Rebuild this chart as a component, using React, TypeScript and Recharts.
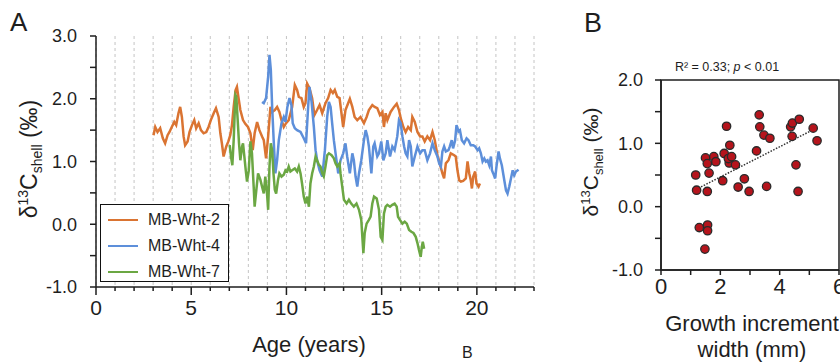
import React from 'react'
import {
  LineChart,
  Line,
  XAxis,
  YAxis,
  CartesianGrid,
  Legend,
  ScatterChart,
  Scatter,
  ReferenceLine,
  ReferenceArea,
} from 'recharts'

// ---------------------------------------------------------------------------
// Panel A — d13C shell records vs age (years)
// ---------------------------------------------------------------------------

const WHT2_AGE = [
  3.02, 3.11, 3.23, 3.37, 3.51, 3.63, 3.76, 3.86, 3.98, 4.11, 4.21, 4.33, 4.42, 4.51, 4.6, 4.68,
  4.81, 4.91, 5.04, 5.16, 5.26, 5.39, 5.51, 5.65, 5.79, 5.91, 6.03, 6.18, 6.3, 6.44, 6.53, 6.61,
  6.7, 6.84, 6.95, 7.05, 7.14, 7.23, 7.33, 7.4, 7.49, 7.58, 7.72, 7.84, 7.98, 8.11, 8.23, 8.33,
  8.46, 8.58, 8.72, 8.81, 8.93, 9.04, 9.16, 9.25, 9.39, 9.51, 9.63, 9.74, 9.86, 9.98, 10.12, 10.3,
  10.44, 10.56, 10.65, 10.79, 10.91, 11.0, 11.09, 11.21, 11.35, 11.47, 11.61, 11.74, 11.88, 12.05,
  12.19, 12.32, 12.44, 12.54, 12.67, 12.79, 12.98, 13.1, 13.23, 13.33, 13.46, 13.58, 13.72, 13.89,
  14.07, 14.21, 14.33, 14.51, 14.63, 14.77, 14.91, 15.04, 15.12, 15.21, 15.3, 15.47, 15.65, 15.79,
  15.91, 16.0, 16.14, 16.26, 16.39, 16.53, 16.61, 16.74, 16.88, 17.02, 17.14, 17.26, 17.4, 17.54,
  17.67, 17.79, 17.93, 18.05, 18.19, 18.28, 18.37, 18.51, 18.63, 18.81, 18.89, 18.98, 19.07, 19.16,
  19.28, 19.42, 19.51, 19.6, 19.68, 19.74, 19.81, 19.91, 19.98, 20.09, 20.16,
]
const WHT2_D13C = [
  1.42, 1.55, 1.47, 1.53, 1.37, 1.29, 1.42, 1.47, 1.55, 1.63, 1.58, 1.77, 1.87, 1.71, 1.4, 1.26,
  1.32, 1.47, 1.58, 1.66, 1.53, 1.61, 1.5, 1.45, 1.47, 1.55, 1.66, 1.77, 1.85, 1.71, 1.45, 1.29,
  1.08, 1.24, 1.32, 1.42, 1.58, 1.87, 2.14, 2.19, 2.0, 1.82, 1.66, 1.6, 1.55, 1.45, 1.18, 1.45,
  1.63, 1.5, 1.4, 1.34, 1.05, 1.4, 1.87, 1.79, 1.82, 1.87, 1.79, 1.66, 1.55, 1.61, 1.66, 1.87,
  2.22, 2.14, 2.03, 2.01, 1.87, 1.93, 2.24, 2.17, 2.01, 1.74, 1.82, 1.9, 1.77, 1.93,
  2.01, 2.14, 2.09, 2.14, 2.03, 2.01, 1.55, 1.82, 1.92, 2.0, 1.87, 1.71, 1.66, 1.71,
  1.61, 1.71, 1.82, 1.9, 1.87, 1.85, 1.74, 1.79, 1.55, 1.77, 1.66, 1.79, 1.87, 1.92,
  1.82, 1.69, 1.55, 1.47, 1.55, 1.5, 1.71, 1.63, 1.47, 1.4, 1.4, 1.32, 1.4, 1.34,
  1.47, 1.34, 1.1, 0.97, 0.81, 0.73, 0.97, 1.02, 1.13, 1.1, 1.08, 0.86, 0.7, 0.68,
  0.69, 0.73, 1.0, 0.81, 0.7, 0.57, 0.76, 0.84, 0.65, 0.6, 0.65,
]

const WHT4_AGE = [
  8.72, 8.81, 8.93, 9.04, 9.11, 9.18, 9.25, 9.33, 9.42, 9.51, 9.6, 9.74, 9.86, 9.95, 10.05, 10.16,
  10.26, 10.33, 10.44, 10.56, 10.74, 10.91, 11.03, 11.14, 11.21, 11.32, 11.44, 11.53, 11.61, 11.74,
  11.88, 12.02, 12.14, 12.23, 12.32, 12.4, 12.49, 12.58, 12.72, 12.84, 12.98, 13.1, 13.19, 13.33,
  13.46, 13.54, 13.63, 13.72, 13.81, 13.93, 14.07, 14.16, 14.25, 14.33, 14.46, 14.56, 14.63, 14.77,
  14.86, 14.98, 15.09, 15.21, 15.3, 15.44, 15.56, 15.68, 15.82, 15.91, 16.0, 16.09, 16.18, 16.26,
  16.35, 16.44, 16.53, 16.61, 16.74, 16.88, 17.02, 17.14, 17.26, 17.4, 17.54, 17.67, 17.79, 17.93,
  18.02, 18.11, 18.19, 18.28, 18.37, 18.51, 18.58, 18.68, 18.75, 18.86, 18.93, 19.04, 19.11, 19.21,
  19.33, 19.46, 19.56, 19.68, 19.81, 19.91, 20.04, 20.12, 20.21, 20.3, 20.39, 20.47, 20.56, 20.65,
  20.74, 20.79, 20.86, 20.96, 21.03, 21.14, 21.21, 21.31, 21.44, 21.53, 21.61, 21.7, 21.79, 21.88,
  21.96, 22.05, 22.19,
]
const WHT4_D13C = [
  1.95, 1.93, 2.01, 2.35, 2.7, 2.46, 1.87, 1.34, 0.81, 1.02, 1.34, 1.61, 1.71, 1.63, 1.87, 2.01,
  1.9, 1.61, 1.53, 1.5, 1.47, 1.37, 1.29, 1.87, 2.19, 1.95, 1.55, 1.18, 1.02, 0.86,
  0.76, 1.18, 1.71, 1.95, 1.87, 1.61, 1.34, 1.13, 0.81, 1.02, 1.13, 1.29, 1.08, 0.81,
  1.13, 1.02, 0.76, 0.6, 0.81, 1.02, 1.34, 1.5, 1.4, 1.24, 0.81, 1.24, 1.29, 1.08,
  1.13, 1.32, 1.02, 1.13, 1.34, 1.08, 1.24, 1.18, 1.4, 1.66, 1.61, 1.4, 1.24, 1.13,
  1.08, 1.34, 1.24, 0.92, 1.08, 1.24, 1.13, 1.18, 1.18, 1.02, 1.13, 1.29, 1.18, 1.08,
  0.97, 0.92, 1.16, 1.24, 1.16, 1.18, 1.24, 1.34, 1.21, 1.34, 1.58, 1.48, 1.5, 1.34,
  1.29, 1.37, 1.34, 1.26, 1.26, 1.24, 1.18, 1.21, 1.13, 1.0, 1.05, 1.0, 1.02, 0.94,
  1.08, 0.86, 0.81, 0.73, 0.92, 1.16, 1.05, 0.94, 0.7, 0.54, 0.49, 0.6, 0.73, 0.86,
  0.78, 0.84, 0.87,
]

const WHT7_AGE = [
  7.02, 7.09, 7.16, 7.23, 7.32, 7.37, 7.44, 7.51, 7.58, 7.67, 7.72, 7.79, 7.86, 7.93, 8.02, 8.11,
  8.19, 8.28, 8.33, 8.4, 8.51, 8.63, 8.72, 8.81, 8.89, 8.98, 9.04, 9.11, 9.18, 9.25, 9.32, 9.39,
  9.46, 9.56, 9.63, 9.74, 9.86, 9.95, 10.04, 10.12, 10.21, 10.3, 10.44, 10.56, 10.65, 10.74, 10.82,
  10.91, 11.0, 11.09, 11.18, 11.26, 11.35, 11.44, 11.53, 11.61, 11.7, 11.79, 11.88, 11.96, 12.05,
  12.14, 12.23, 12.37, 12.49, 12.58, 12.67, 12.79, 12.84, 12.93, 13.02, 13.16, 13.28, 13.4, 13.54,
  13.68, 13.81, 13.93, 14.04, 14.11, 14.21, 14.33, 14.42, 14.51, 14.6, 14.74, 14.86, 14.95, 15.04,
  15.12, 15.21, 15.3, 15.44, 15.56, 15.68, 15.79, 15.86, 15.96, 16.09, 16.21, 16.32, 16.44, 16.56,
  16.67, 16.79, 16.88, 16.96, 17.05, 17.11, 17.16, 17.23,
]
const WHT7_D13C = [
  1.26, 1.08, 0.94, 1.34, 2.06, 2.03, 1.66, 1.29, 1.02, 1.24, 1.29, 1.08, 0.87, 0.68, 0.85, 1.32,
  1.13, 0.6, 0.28, 0.49, 0.81, 0.71, 0.6, 0.49, 0.76, 0.49, 0.23, 0.92, 1.29, 1.18, 0.81, 0.55,
  0.49, 0.71, 0.81, 0.76, 0.79, 0.86, 0.84, 0.92, 0.84, 0.86, 0.89, 0.84, 0.92, 0.81, 0.65,
  0.44, 0.33, 0.44, 0.28, 0.65, 0.81, 0.92, 1.08, 1.02, 0.95, 0.92, 0.81, 0.76, 0.92,
  1.1, 1.13, 1.1, 1.05, 0.97, 0.92, 0.97, 0.81, 0.6, 0.39, 0.33, 0.39, 0.33, 0.28,
  0.33, 0.23, 0.07, -0.46, -0.14, 0.01, 0.07, 0.12, 0.33, 0.44, 0.41, 0.23, -0.2, -0.25,
  0.17, 0.28, 0.31, 0.28, 0.31, 0.33, 0.28, 0.12, 0.07, 0.01, 0.04, 0.01, -0.09, -0.12,
  -0.14, -0.2, -0.3, -0.41, -0.52, -0.36, -0.28, -0.39,
]

const SPECIMENS = ['MB-Wht-2', 'MB-Wht-4', 'MB-Wht-7']
const AGE_TICKS = Array.from({ length: 24 }, (_, i) => i)
const DELTA_TICKS_A = [-1, -0.5, 0, 0.5, 1, 1.5, 2, 2.5, 3]

// ---------------------------------------------------------------------------
// Panel B — d13C vs growth increment width
// ---------------------------------------------------------------------------

const GIW_MM = [
  1.17, 1.2, 1.5, 1.56, 1.62, 1.56, 1.29, 1.57, 1.57, 1.48, 1.78, 1.85, 2.21, 2.13, 2.3, 2.32,
  2.27, 2.38, 2.51, 2.08, 2.6, 2.81, 2.97, 3.22, 3.31, 3.33, 3.47, 3.67, 3.56, 4.37, 4.43, 4.42,
  4.66, 4.55, 4.62, 5.13, 5.26,
]
const GIW_D13C = [
  0.5, 0.26, 0.77, 0.68, 0.53, 0.24, -0.33, -0.29, -0.38, -0.67, 0.79, 0.71, 1.27, 0.84, 0.69, 0.97,
  0.76, 0.79, 0.66, 0.41, 0.31, 0.44, 0.24, 0.88, 1.45, 1.26, 1.13, 1.08, 0.32, 1.26, 1.32, 1.11,
  1.38, 0.66, 0.24, 1.24, 1.04,
]
const TREND = [
  { x: 1.17, y: 0.27 },
  { x: 5.15, y: 1.22 },
]
const GIW_TICKS = [0, 1, 2, 3, 4, 5, 6]
const DELTA_TICKS_B = [-1, -0.5, 0, 0.5, 1, 1.5, 2]

// ---------------------------------------------------------------------------
// Style
// ---------------------------------------------------------------------------

const FONT = '"Liberation Sans", Arial, Helvetica, sans-serif'
const INK = '#1e1e1e'
const COLORS = ['#DA7432', '#5D8FDA', '#6BA743']

const zip = (xs: number[], ys: number[]) => xs.map((x, i) => ({ x, y: ys[i] }))
const SERIES = [zip(WHT2_AGE, WHT2_D13C), zip(WHT4_AGE, WHT4_D13C), zip(WHT7_AGE, WHT7_D13C)]
const SCATTER = zip(GIW_MM, GIW_D13C)

// bottom ticks: short minor mark every unit, longer mark + label on majors
function makeXTick(labelEvery: number, minorLen: number, majorLen: number, fontSize: number, dy: number) {
  return (props: any) => {
    const { x, y, payload } = props
    const major = payload.value % labelEvery === 0
    return (
      <g>
        <line x1={x} x2={x} y1={y} y2={y + (major ? majorLen : minorLen)} stroke={INK} strokeWidth={1.5} />
        {major && (
          <text x={x} y={y + dy} textAnchor="middle" fontSize={fontSize} fontFamily={FONT} fill={INK}>
            {payload.value}
          </text>
        )}
      </g>
    )
  }
}

function makeYTick(gap: number, fontSize: number) {
  return (props: any) => {
    const { x, y, payload } = props
    const major = Number.isInteger(payload.value)
    return (
      <g>
        <line x1={x - 6} x2={x} y1={y} y2={y} stroke={INK} strokeWidth={1.5} />
        {major && (
          <text x={x - gap} y={y + fontSize * 0.36} textAnchor="end" fontSize={fontSize} fontFamily={FONT} fill={INK}>
            {payload.value.toFixed(1)}
          </text>
        )}
      </g>
    )
  }
}

function LegendBox({ payload }: any) {
  return (
    <div
      style={{
        width: 127,
        height: 76,
        border: '1.5px solid #111',
        background: '#fff',
        position: 'relative',
        fontFamily: FONT,
        fontSize: 16,
        color: INK,
      }}
    >
      {(payload || []).map((p: any, i: number) => (
        <div key={p.value} style={{ position: 'absolute', left: 0, top: 4 + i * 26, height: 22, display: 'flex', alignItems: 'center' }}>
          <span style={{ display: 'inline-block', marginLeft: 7, width: 30, height: 2.5, background: p.color }} />
          <span style={{ marginLeft: 10, whiteSpace: 'nowrap' }}>{p.value}</span>
        </div>
      ))}
    </div>
  )
}

function DeltaLabel({ x, y, size }: { x: number; y: number; size: number }) {
  const small = Math.round(size * 0.6)
  return (
    <text transform={`translate(${x},${y}) rotate(-90)`} textAnchor="middle" fontFamily={FONT} fontSize={size} fill={INK}>
      <tspan>δ</tspan>
      <tspan fontSize={small} dy={-size * 0.38}>13</tspan>
      <tspan dy={size * 0.38}>C</tspan>
      <tspan fontSize={small} dy={size * 0.22}>shell</tspan>
      <tspan dy={-size * 0.22}> (‰)</tspan>
    </text>
  )
}

function AgePanel() {
  return (
    <LineChart width={560} height={363} margin={{ top: 36, right: 26, left: 0, bottom: 46 }}>
      <CartesianGrid horizontal={false} stroke="#c4c4c4" strokeDasharray="3 3" />
      <XAxis
        type="number"
        dataKey="x"
        domain={[0, 23]}
        ticks={AGE_TICKS}
        interval={0}
        height={30}
        tickSize={0}
        tickMargin={0}
        tickLine={false}
        tick={makeXTick(5, 4, 8, 21, 28)}
        axisLine={{ stroke: INK, strokeWidth: 1.5 }}
      />
      <YAxis
        type="number"
        domain={[-1, 3]}
        ticks={DELTA_TICKS_A}
        interval={0}
        width={96}
        tickSize={0}
        tickMargin={0}
        tickLine={false}
        tick={makeYTick(19, 18)}
        axisLine={{ stroke: INK, strokeWidth: 1.5 }}
      />
      <Legend
        layout="vertical"
        align="center"
        verticalAlign="middle"
        content={<LegendBox />}
        wrapperStyle={{ left: 100, top: 204, width: 130, height: 79 }}
      />
      {SERIES.map((data, i) => (
        <Line
          key={SPECIMENS[i]}
          data={data}
          dataKey="y"
          name={SPECIMENS[i]}
          stroke={COLORS[i]}
          strokeWidth={2.5}
          dot={false}
          isAnimationActive={false}
        />
      ))}
    </LineChart>
  )
}

function GrowthPanel() {
  return (
    <ScatterChart width={280} height={363} margin={{ top: 80, right: 1, left: 0, bottom: 63 }}>
      <XAxis
        type="number"
        dataKey="x"
        domain={[0, 6]}
        ticks={GIW_TICKS}
        interval={0}
        height={30}
        tickSize={0}
        tickMargin={0}
        tickLine={false}
        tick={makeXTick(2, 5, 5, 22, 24)}
        axisLine={{ stroke: INK, strokeWidth: 1.5 }}
      />
      <YAxis
        type="number"
        dataKey="y"
        domain={[-1, 2]}
        ticks={DELTA_TICKS_B}
        interval={0}
        width={101}
        tickSize={0}
        tickMargin={0}
        tickLine={false}
        tick={makeYTick(18, 18)}
        axisLine={{ stroke: INK, strokeWidth: 1.5 }}
      />
      <ReferenceArea x1={0} x2={6} y1={-1} y2={2} fill="none" stroke={INK} strokeWidth={1.5} />
      <ReferenceLine segment={TREND} stroke="#333" strokeWidth={1.5} strokeDasharray="1.5 1.5" />
      <Scatter
        data={SCATTER}
        isAnimationActive={false}
        shape={(p: any) => <circle cx={p.cx} cy={p.cy} r={4.2} fill="#B5141C" stroke="#2a2a2a" strokeWidth={1.3} />}
      />
    </ScatterChart>
  )
}

export default function App() {
  return (
    <div style={{ position: 'absolute', left: 0, top: 0, width: 840, height: 363, background: '#fff', overflow: 'hidden' }}>
      <div style={{ position: 'absolute', left: 0, top: 0 }}>
        <AgePanel />
      </div>
      <div style={{ position: 'absolute', left: 560, top: 0 }}>
        <GrowthPanel />
      </div>
      <svg width={840} height={363} style={{ position: 'absolute', left: 0, top: 0, pointerEvents: 'none' }}>
        <text x={10} y={31} fontFamily={FONT} fontSize={26} fill={INK}>A</text>
        <text x={584} y={32} fontFamily={FONT} fontSize={27} fill={INK}>B</text>
        <DeltaLabel x={37} y={159} size={23} />
        <DeltaLabel x={598} y={162} size={21} />
        <text x={309} y={352} textAnchor="middle" fontFamily={FONT} fontSize={22} fill={INK}>Age (years)</text>
        <text x={462} y={358} fontFamily={FONT} fontSize={16} fill={INK}>B</text>
        <text x={727} y={71} textAnchor="middle" fontFamily={FONT} fontSize={12.5} fill={INK}>
          R² = 0.33; <tspan fontStyle="italic">p</tspan> &lt; 0.01
        </text>
        <text x={752} y={331} textAnchor="middle" fontFamily={FONT} fontSize={22} fill={INK}>Growth increment</text>
        <text x={752} y={357} textAnchor="middle" fontFamily={FONT} fontSize={22} fill={INK}>width (mm)</text>
      </svg>
    </div>
  )
}
